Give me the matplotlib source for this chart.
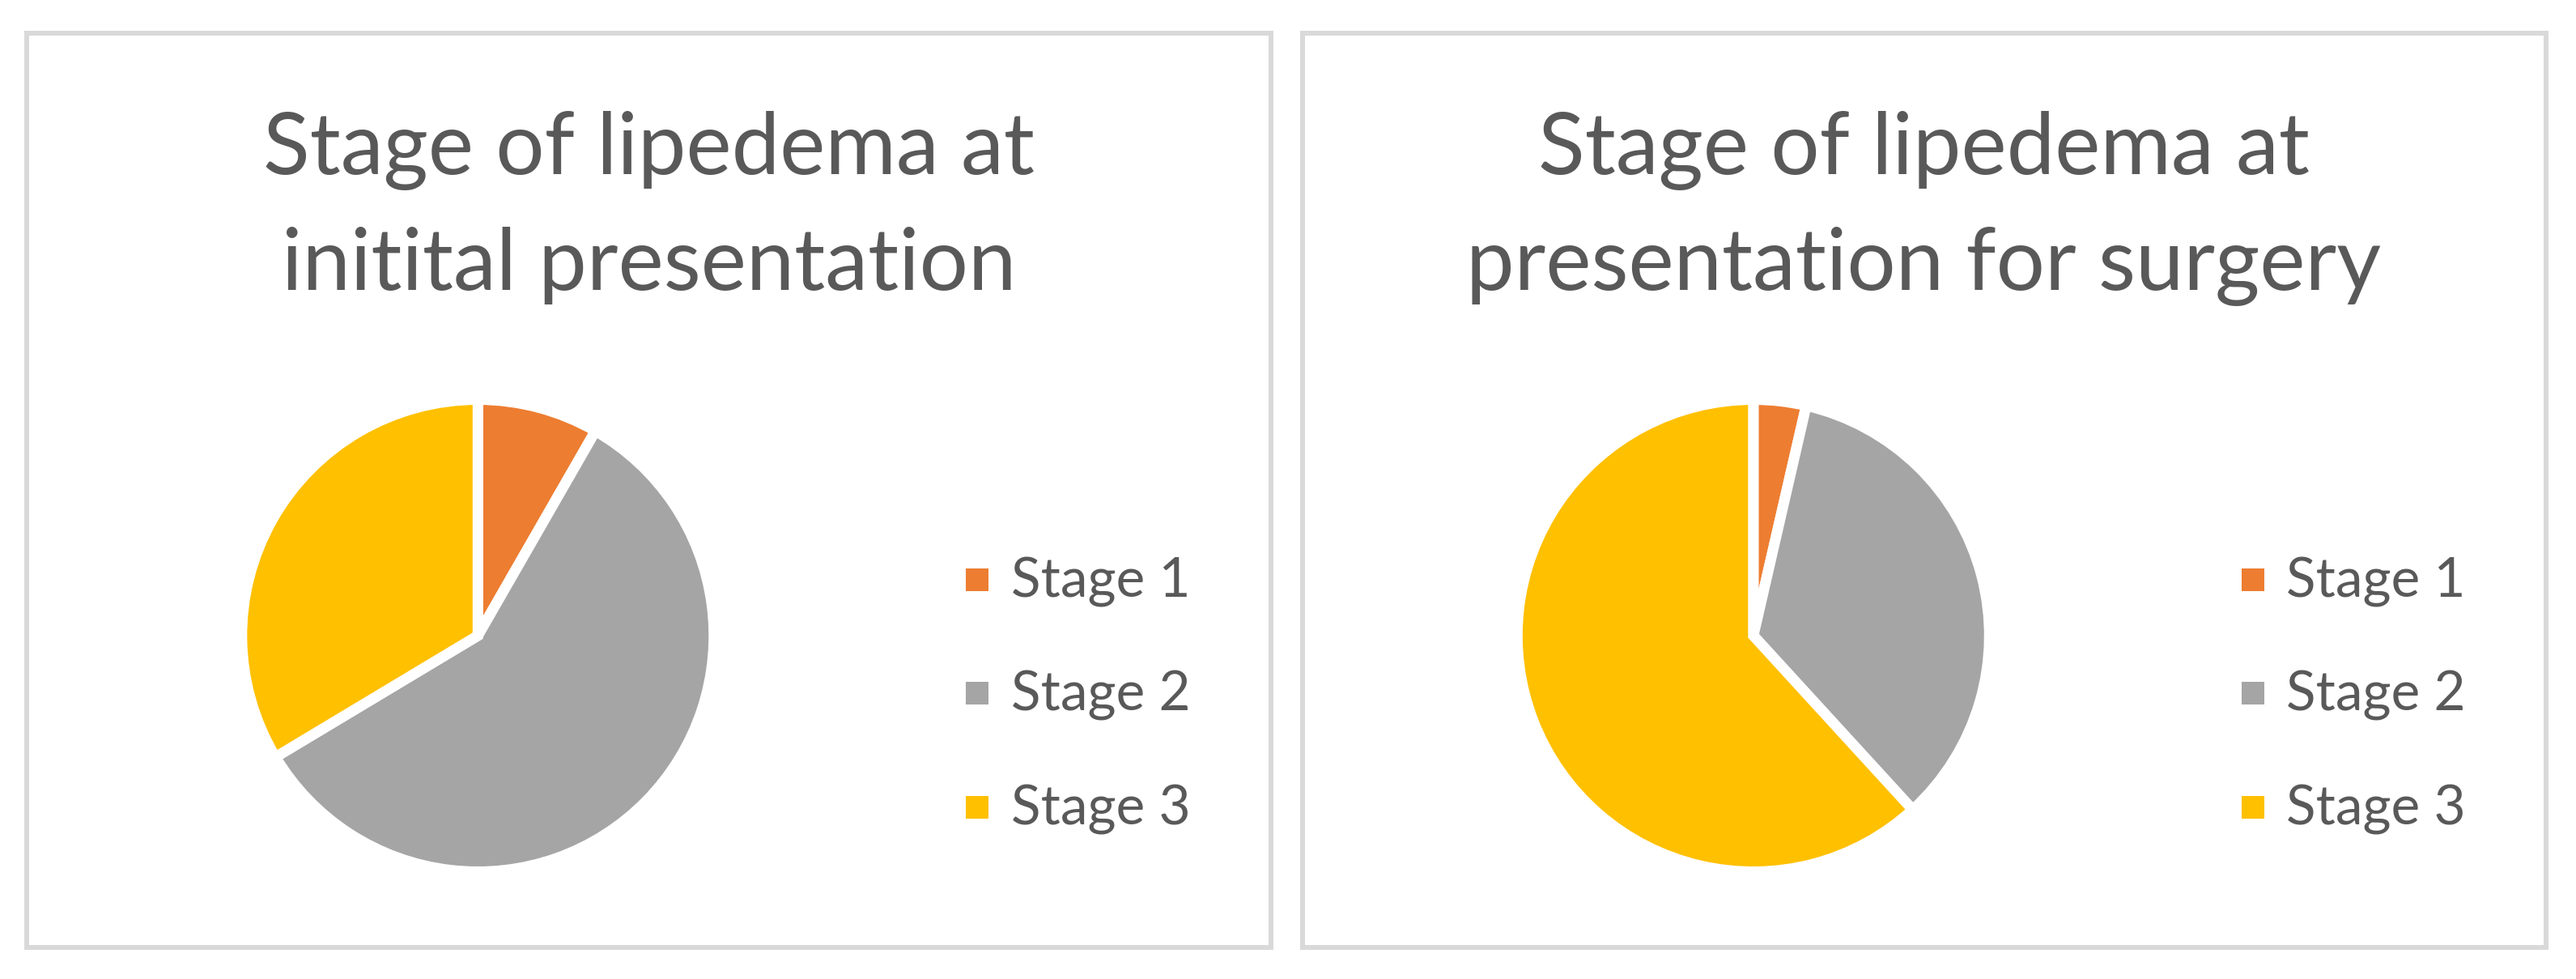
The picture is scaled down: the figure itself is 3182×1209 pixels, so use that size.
import matplotlib
matplotlib.use('Agg')
import matplotlib.pyplot as plt
from matplotlib.patches import Rectangle
from matplotlib.textpath import TextPath
from matplotlib.font_manager import FontProperties

# ---------------- data ----------------
categories = ['Stage 1', 'Stage 2', 'Stage 3']
initial_values = [8.3, 58.1, 33.6]
surgery_values = [3.6, 34.6, 61.8]
title_initial = ['Stage of lipedema at', 'initital presentation']
title_surgery = ['Stage of lipedema at', 'presentation for surgery']
colors = ['#ED7D31', '#A5A5A5', '#FFC000']

# ---------------- layout ----------------
W, H = 3182, 1209
DPI = 100
FAMILY = ['Lato', 'DejaVu Sans']
TEXT_COLOR = '#595959'
BORDER = '#D9D9D9'

fig = plt.figure(figsize=(W / DPI, H / DPI), dpi=DPI)
fig.patch.set_facecolor('white')


def fx(x):
    return x / W


def fy(y):
    return 1 - y / H


prop = FontProperties(family=FAMILY)


def size_for(text, target_w_px, target_cap_px):
    w = TextPath((0, 0), text, size=100, prop=prop).get_extents().width * DPI / 72
    cap = TextPath((0, 0), 'H', size=100, prop=prop).get_extents().height * DPI / 72
    s_w = 100 * target_w_px / w
    s_c = 100 * target_cap_px / cap
    return (s_w * s_c) ** 0.5


title_size = size_for('Stage of lipedema at', 963, 75)
legend_size = size_for('Stage 1', 216, 48)

panels = [(33.0, 1569.5, initial_values, title_initial),
          (1608.5, 3144.5, surgery_values, title_surgery)]
box_top, box_bot = 41.0, 1169.5
border_px = 6
gap_px = 13
R_vis = 285
R = R_vis + gap_px / 2
cy = 785
title_baselines = [215, 357.7]
legend_rows = [715.5, 856, 996.7]
sq = 28

for left, right, values, tlines in panels:
    # chart border
    fig.patches.append(Rectangle((fx(left), fy(box_bot)), (right - left) / W,
                                 (box_bot - box_top) / H, transform=fig.transFigure,
                                 fill=False, edgecolor=BORDER,
                                 linewidth=border_px * 72 / DPI, joinstyle='miter'))
    # title
    xc = (left + right) / 2
    for line, yb in zip(tlines, title_baselines):
        fig.text(fx(xc), fy(yb), line, ha='center', va='baseline',
                 fontsize=title_size, color=TEXT_COLOR, family=FAMILY)
    # pie
    cx = left + 557.3
    ax = fig.add_axes([fx(cx - R), fy(cy + R), 2 * R / W, 2 * R / H])
    ax.pie(values, colors=colors, startangle=90, counterclock=False, radius=1,
           wedgeprops=dict(edgecolor='white', linewidth=gap_px * 72 / DPI,
                           joinstyle='miter'))
    ax.set_xlim(-1, 1)
    ax.set_ylim(-1, 1)
    ax.axis('off')
    # legend
    for cat, col, yr in zip(categories, colors, legend_rows):
        fig.patches.append(Rectangle((fx(left + 1160), fy(yr + sq / 2)), sq / W, sq / H,
                                     transform=fig.transFigure, facecolor=col,
                                     edgecolor='none'))
        fig.text(fx(left + 1216), fy(yr + 22), cat, ha='left', va='baseline',
                 fontsize=legend_size, color=TEXT_COLOR, family=FAMILY)

fig.savefig('out.png', dpi=DPI, facecolor='white')
